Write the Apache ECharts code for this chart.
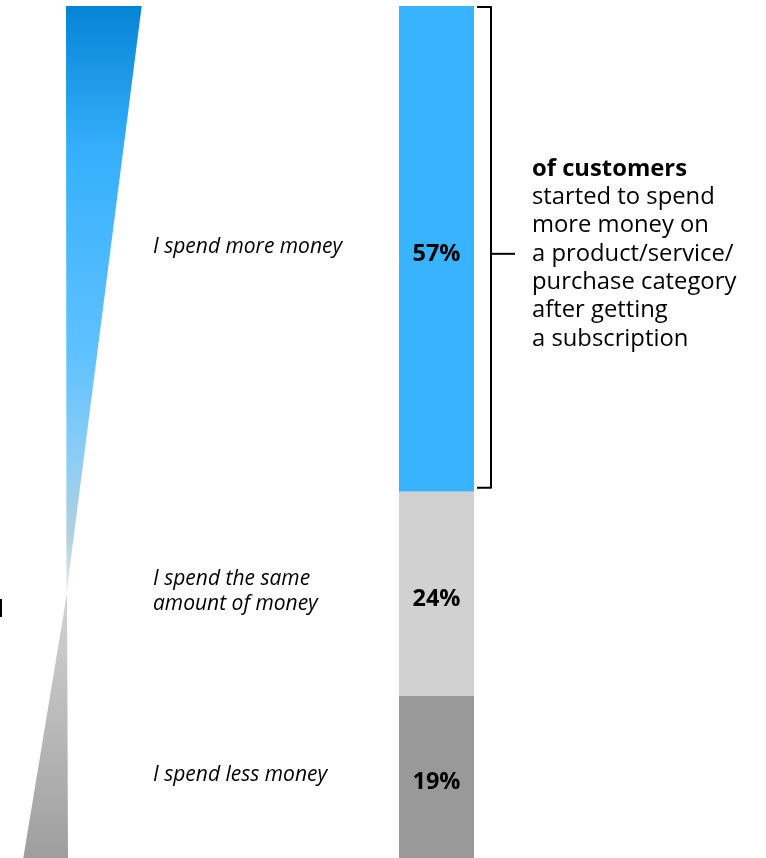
<!DOCTYPE html>
<html><head><meta charset="utf-8">
<script src="https://cdn.jsdelivr.net/npm/echarts@6/dist/echarts.min.js"></script>
<style>html,body{margin:0;padding:0;background:#fff}#c{width:766px;height:858px}</style>
</head><body><div id="c"></div>
<script>
const categories = ['I spend more money', 'I spend the same\namount of money', 'I spend less money'];
const values = [57, 24, 19];
const colors = ['#38b4fe', '#d1d1d1', '#999999'];
const annotationTitle = 'of customers';
const annotationLines = ['started to spend', 'more money on', 'a product/service/', 'purchase category', 'after getting', 'a subscription'];

let acc = 0;
const data = values.map((v, i) => { const s = acc; acc += v; return [s, acc, v, i]; });

const FONT = '"Open Sans", "Noto Sans", sans-serif';
const chart = echarts.init(document.getElementById('c'), null, {renderer: 'canvas'});
chart.setOption({
  animation: false,
  grid: {left: 399, top: 6, width: 75, height: 852},
  xAxis: {type: 'value', min: 0, max: 1, show: false},
  yAxis: {type: 'value', min: 0, max: 100, inverse: true, show: false},
  graphic: [
    {type: 'polygon', shape: {points: [[66, 6], [141.7, 6], [66.5, 593]]},
     style: {fill: new echarts.graphic.LinearGradient(0, 0, 0, 1, [
       {offset: 0, color: '#0684d4'}, {offset: 0.25, color: '#36b0fc'},
       {offset: 0.6, color: '#60c2ff'}, {offset: 0.77, color: '#8ccdf5'},
       {offset: 0.9, color: '#b0d0e0'}, {offset: 1, color: '#e4e6e8'}])}},
    {type: 'polygon', shape: {points: [[67, 593], [68, 858], [23.3, 858]]},
     style: {fill: new echarts.graphic.LinearGradient(0, 0, 0, 1, [
       {offset: 0, color: '#d4d4d4'}, {offset: 1, color: '#9e9e9e'}])}},
    {type: 'rect', shape: {x: 0, y: 599, width: 2, height: 18}, style: {fill: '#000'}}
  ],
  series: [{
    type: 'custom',
    data: data,
    encode: {y: [0, 1]},
    renderItem: function (params, api) {
      const s = api.value(0), e = api.value(1), v = api.value(2), i = api.value(3);
      const p0 = api.coord([0, s]), p1 = api.coord([1, e]);
      const midY = (p0[1] + p1[1]) / 2, midX = (p0[0] + p1[0]) / 2;
      const children = [
        {type: 'rect', shape: {x: p0[0], y: p0[1], width: p1[0] - p0[0], height: p1[1] - p0[1]}, style: {fill: colors[i]}},
        {type: 'text', style: {text: v + '%', x: midX, y: midY + 5, align: 'center', verticalAlign: 'middle',
          fontSize: 23.5, fontWeight: 'bold', fontFamily: FONT, fill: '#000'}},
        {type: 'text', style: {text: categories[i], x: p0[0] - 246, y: midY - 2, align: 'left', verticalAlign: 'middle',
          fontSize: 21, fontStyle: 'italic', fontFamily: FONT, lineHeight: 25, fill: '#000'}}
      ];
      if (i === 0) {
        const bx = p1[0] + 17, tickY = midY + 5;
        children.push({type: 'polyline', shape: {points: [[p1[0] + 3, p0[1] + 1], [bx, p0[1] + 1], [bx, p1[1] - 4], [p1[0] + 3, p1[1] - 4]]},
          style: {stroke: '#000', lineWidth: 2, fill: null, lineJoin: 'round'}});
        children.push({type: 'line', shape: {x1: bx, y1: tickY, x2: bx + 24, y2: tickY}, style: {stroke: '#000', lineWidth: 2}});
        children.push({type: 'text', style: {
          text: '{b|' + annotationTitle + '}\n' + annotationLines.map(l => '{r|' + l + '}').join('\n'),
          x: bx + 41, y: tickY, align: 'left', verticalAlign: 'middle',
          rich: {
            b: {fontSize: 23.8, fontWeight: 'bold', fontFamily: FONT, lineHeight: 28.3, fill: '#000'},
            r: {fontSize: 23.8, fontFamily: FONT, lineHeight: 28.3, fill: '#000'}
          }}});
      }
      return {type: 'group', children: children};
    }
  }]
});
</script></body></html>
